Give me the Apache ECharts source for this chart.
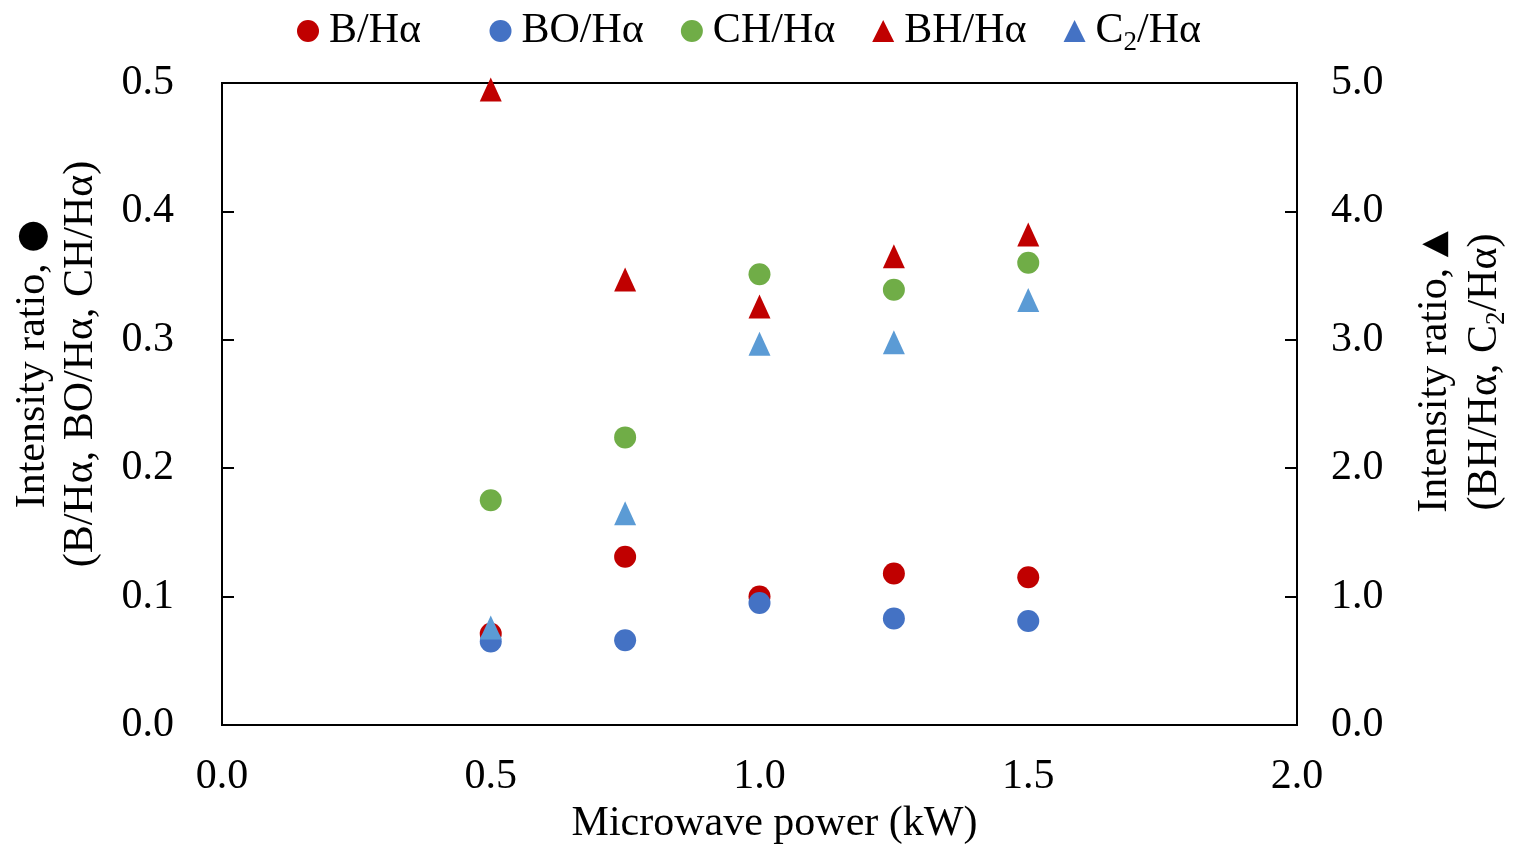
<!DOCTYPE html>
<html>
<head>
<meta charset="utf-8">
<title>Intensity ratio vs microwave power</title>
<script src="https://cdn.jsdelivr.net/npm/echarts@6/dist/echarts.min.js"></script>
<style>
  html, body { margin: 0; padding: 0; background: #fff; }
  #chart { width: 1515px; height: 848px; }
</style>
</head>
<body>
<div id="chart"></div>
<script>
// microwave power (kW)
const power = [0.5, 0.75, 1.0, 1.25, 1.5]
// left axis series (circles)
const bHa = [0.071, 0.131, 0.100, 0.118, 0.115]
const boHa = [0.065, 0.066, 0.095, 0.083, 0.081]
const chHa = [0.175, 0.224, 0.351, 0.339, 0.360]
// right axis series (triangles)
const bhHa = [4.95, 3.47, 3.26, 3.65, 3.82]
const c2Ha = [0.76, 1.65, 2.97, 2.98, 3.31]

const pairs = vals => power.map((p, i) => [p, vals[i]])

const font = 'Liberation Serif, Times New Roman, serif'
const fs = 42
const sub = { fontFamily: font, fontSize: 27, color: '#000', padding: [24, 0, 0, 0] }
const myChart = echarts.init(document.getElementById('chart'))

myChart.setOption({
  backgroundColor: '#fff',
  animation: false,
  textStyle: { fontFamily: font, color: '#000' },
  grid: {
    left: 222,
    right: 218,
    top: 83,
    bottom: 123,
    outerBoundsMode: 'none',
    show: true,
    borderColor: '#000',
    borderWidth: 2
  },
  legend: {
    top: 5,
    left: 292,
    itemWidth: 22,
    itemHeight: 22,
    itemGap: 37,
    textStyle: {
      fontFamily: font,
      fontSize: fs,
      color: '#000',
      rich: {
        n: { fontFamily: font, fontSize: fs, color: '#000' },
        f: { fontFamily: font, fontSize: fs, color: '#000', padding: [0, 0, 0, 5] },
        s: sub
      }
    },
    formatter: name => {
      if (name === 'C2/Hα') return '{f|C}{s|2}{n|/Hα}'
      if (name === 'B/Hα') return '{f|B/Hα}{n|   }'
      return '{f|' + name + '}'
    },
    data: [
      { name: 'B/Hα', icon: 'circle' },
      { name: 'BO/Hα', icon: 'circle' },
      { name: 'CH/Hα', icon: 'circle' },
      { name: 'BH/Hα', icon: 'triangle' },
      { name: 'C2/Hα', icon: 'triangle', itemStyle: { color: '#4472C4' } }
    ]
  },
  xAxis: {
    type: 'value',
    min: 0,
    max: 2,
    interval: 0.5,
    name: 'Microwave power (kW)',
    nameLocation: 'middle',
    nameGap: 77,
    nameTextStyle: { fontFamily: font, fontSize: fs, color: '#000', padding: [0, 0, 0, 30] },
    axisLine: { lineStyle: { color: '#000', width: 2 } },
    axisTick: { show: false },
    splitLine: { show: false },
    axisLabel: {
      fontFamily: font,
      fontSize: fs,
      color: '#000',
      margin: 31,
      formatter: v => v.toFixed(1)
    }
  },
  yAxis: [
    {
      type: 'value',
      min: 0,
      max: 0.5,
      interval: 0.1,
      name: 'Intensity ratio, {c|●}\n(B/Hα, BO/Hα, CH/Hα)',
      nameLocation: 'middle',
      nameRotate: 90,
      nameGap: 117,
      nameTextStyle: {
        fontFamily: font,
        fontSize: fs,
        color: '#000',
        lineHeight: 48,
        padding: [0, 0, 0, 80],
        rich: {
          c: { fontFamily: 'DejaVu Sans', fontSize: 38, color: '#000', lineHeight: 48 }
        }
      },
      axisLine: { show: true, lineStyle: { color: '#000', width: 2 } },
      axisTick: { show: true, inside: true, length: 12, lineStyle: { color: '#000', width: 2 } },
      splitLine: { show: false },
      axisLabel: {
        fontFamily: font,
        fontSize: fs,
        color: '#000',
        margin: 48,
        formatter: v => v.toFixed(1)
      }
    },
    {
      type: 'value',
      min: 0,
      max: 5,
      interval: 1,
      position: 'right',
      name: 'Intensity ratio, {t|▲}\n(BH/Hα, C{s|2}/Hα)',
      nameLocation: 'middle',
      nameRotate: 90,
      nameGap: 113,
      nameTextStyle: {
        fontFamily: font,
        fontSize: fs,
        color: '#000',
        lineHeight: 50,
        padding: [0, 0, 0, 64],
        rich: {
          s: sub,
          t: { fontFamily: 'DejaVu Sans', fontSize: 34, color: '#000', lineHeight: 50 }
        }
      },
      axisLine: { show: true, lineStyle: { color: '#000', width: 2 } },
      axisTick: { show: true, inside: true, length: 12, lineStyle: { color: '#000', width: 2 } },
      splitLine: { show: false },
      axisLabel: {
        fontFamily: font,
        fontSize: fs,
        color: '#000',
        margin: 34,
        formatter: v => v.toFixed(1)
      }
    }
  ],
  series: [
    {
      name: 'B/Hα',
      type: 'scatter',
      symbol: 'circle',
      symbolSize: 22,
      yAxisIndex: 0,
      itemStyle: { color: '#C00000', opacity: 1 },
      data: pairs(bHa)
    },
    {
      name: 'BO/Hα',
      type: 'scatter',
      symbol: 'circle',
      symbolSize: 22,
      yAxisIndex: 0,
      itemStyle: { color: '#4472C4', opacity: 1 },
      data: pairs(boHa)
    },
    {
      name: 'CH/Hα',
      type: 'scatter',
      symbol: 'circle',
      symbolSize: 22,
      yAxisIndex: 0,
      itemStyle: { color: '#70AD47', opacity: 1 },
      data: pairs(chHa)
    },
    {
      name: 'BH/Hα',
      type: 'scatter',
      symbol: 'triangle',
      symbolSize: [22, 24],
      yAxisIndex: 1,
      itemStyle: { color: '#C00000', opacity: 1 },
      data: pairs(bhHa)
    },
    {
      name: 'C2/Hα',
      type: 'scatter',
      symbol: 'triangle',
      symbolSize: [22, 24],
      yAxisIndex: 1,
      itemStyle: { color: '#5B9BD5', opacity: 1 },
      data: pairs(c2Ha)
    }
  ]
})

window.addEventListener('resize', () => { myChart.resize() })
</script>
</body>
</html>
